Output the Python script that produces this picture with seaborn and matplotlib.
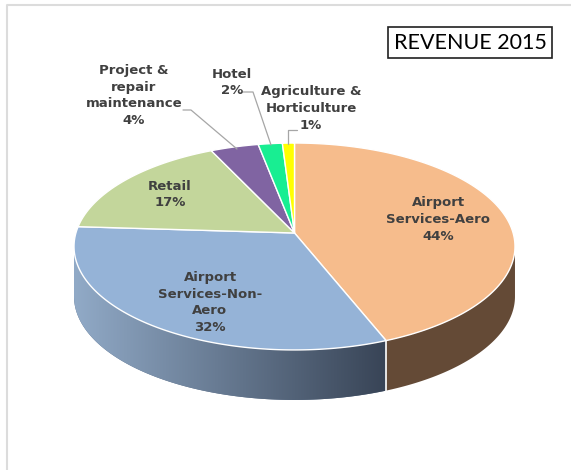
import numpy as np
import matplotlib
matplotlib.use("Agg")
import matplotlib.pyplot as plt
import seaborn as sns
from matplotlib.patches import Polygon, Rectangle

# ---- data ----
categories = ["Airport\nServices-Aero", "Airport\nServices-Non-\nAero", "Retail",
              "Project &\nrepair\nmaintenance", "Hotel", "Agriculture &\nHorticulture"]
shares = [44, 32, 17, 4, 2, 1]
title = "REVENUE 2015"

top_colors = ["#F6BC8C", "#95B3D7", "#C3D69B", "#8064A2", "#18EE92", "#FFFF00"]
side_colors = ["#644A36", "#5A6E88", "#8A9A6C", "#5A4672", "#17A868", "#B0B000"]

sns.set_theme(style="white")
plt.rcParams['font.family'] = ['DejaVu Sans']

fig = plt.figure(figsize=(5.75, 4.70), dpi=100)
ax = fig.add_axes([0, 0, 1, 1])
ax.set_xlim(0, 575)
ax.set_ylim(470, 0)
ax.axis('off')

# frame
ax.plot([7, 7, 571], [470, 5, 5], color="#DCDCDC", lw=1.5, solid_capstyle='butt')

# perspective projection of a tilted disc
x0, y0 = 294.5, 233.0
A, B, k = 218.6, 101.7, 0.1304
depth = 50


def proj(theta_deg, dy=0.0):
    t = np.radians(np.atleast_1d(theta_deg))
    u, v = np.cos(t), np.sin(t)
    d = 1 + k * v
    return np.column_stack([x0 + A * u / d, y0 - B * v / d + dy])


def arc(t0, t1, n=200, dy=0.0):
    return proj(np.linspace(t0, t1, n), dy)


total = float(sum(shares))
bounds = [90.0]
for s in shares:
    bounds.append(bounds[-1] - 360.0 * s / total)

t_sil = np.degrees(np.arcsin(k))
front_lo, front_hi = -180.0 + t_sil, -t_sil

# ---- side faces ----
for i, s in enumerate(shares):
    hi, lo = bounds[i], bounds[i + 1]
    a, b = max(lo, front_lo), min(hi, front_hi)
    if a >= b:
        continue
    top = arc(b, a)
    bot = arc(a, b, dy=depth)
    poly = Polygon(np.vstack([top, bot]), closed=True, facecolor=side_colors[i],
                   edgecolor='none', zorder=2)
    ax.add_patch(poly)
    if i == 1:
        xs = np.linspace(0, 1, 256)
        c0 = np.array([0x91, 0xAA, 0xC7]) / 255.0
        c1 = np.array([0x38, 0x44, 0x56]) / 255.0
        grad = c0[None, :] * (1 - xs[:, None]) + c1[None, :] * xs[:, None]
        img = np.tile(grad[None, :, :], (4, 1, 1))
        xa, xb = top[:, 0].min(), top[:, 0].max()
        im = ax.imshow(img, extent=[xa, xb, 420, 200], aspect='auto',
                       zorder=2.1, interpolation='bilinear')
        im.set_clip_path(poly)

# white seam on the side between aero and non-aero
bx, by = proj(bounds[1])[0]
ax.plot([bx, bx], [by, by + depth], color="white", lw=1.2, zorder=2.5)

# ---- top faces ----
apex = proj(0)[0] * 0 + np.array([x0, y0])
for i, s in enumerate(shares):
    pts = arc(bounds[i], bounds[i + 1])
    poly = Polygon(np.vstack([[apex], pts]), closed=True, facecolor=top_colors[i],
                   edgecolor='white', lw=1.0, joinstyle='round', zorder=3)
    ax.add_patch(poly)

# ---- labels ----
label_pos = [(438, 219.5), (210, 302.5), (170, 194.5), (134, 95.5), (232, 82.5), (311, 108.5)]
for i, (x, y) in enumerate(label_pos):
    ax.text(x, y, f"{categories[i]}\n{shares[i]}%", ha='center', va='center',
            fontsize=9.5, fontweight='bold', color='#404040', linespacing=1.38, zorder=5)

# leader lines
lc = "#A6A6A6"
ax.plot([183, 191, 237], [110, 110, 149], color=lc, lw=0.9, zorder=4)
ax.plot([243, 253, 271], [92, 92, 145], color=lc, lw=0.9, zorder=4)
ax.plot([297, 288, 288], [130, 130, 144], color=lc, lw=0.9, zorder=4)

# ---- title box ----
ax.add_patch(Rectangle((388, 27), 164, 31, facecolor='white', edgecolor='#202020',
                       lw=1.2, zorder=5))
ax.text(470, 43, title, ha='center', va='center', fontsize=15.5, family='Lato',
        color='black', zorder=6)

fig.savefig("out.png", dpi=100)
